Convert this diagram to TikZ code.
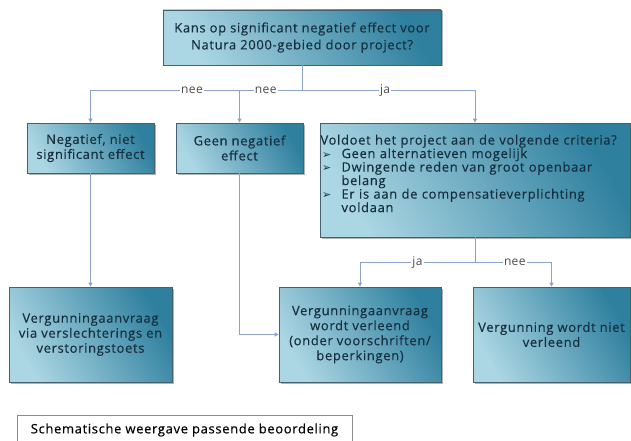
\documentclass[tikz,border=0pt]{standalone}
\usepackage{fontspec}
\setmainfont{Open Sans}[LetterSpace=5, FakeBold=0.3]
\newfontfamily\pijlfont{DejaVu Sans}
\newfontfamily\labelfont{Open Sans}[LetterSpace=3]
\usetikzlibrary{shadows,arrows.meta}
\definecolor{boxlicht}{HTML}{ABD6E3}
\definecolor{boxdonker}{HTML}{2F809F}
\definecolor{rand}{HTML}{45606F}
\definecolor{lijn}{HTML}{8CA2CA}
\definecolor{tekst}{HTML}{17303F}
\newcommand{\punt}[1]{\par\hangindent=21pt\hangafter=1\noindent\makebox[21pt][l]{\hspace{1.5pt}\pijlfont\fontsize{11}{12}\selectfont ➢}#1\par}

\begin{document}
\begin{tikzpicture}[x=1pt,y=-1pt]
\tikzset{blok/.style = {draw=rand, line width=0.8pt, left color=boxlicht, right color=boxdonker,
    shading angle=120, text=tekst, font=\fontsize{13}{15}\selectfont, align=center, inner sep=1.5pt,
    drop shadow={shadow xshift=1.5pt, shadow yshift=-1.5pt, opacity=0.3, fill=black}},
  lijnstijl/.style = {draw=lijn, line width=0.9pt},
  pijl/.style = {lijnstijl, -{Triangle[length=4pt,width=4pt]}},
  keuze/.style = {fill=white, inner sep=1pt, text=black!70, font=\labelfont\fontsize{12}{13}\selectfont}}
\clip (0,0) rectangle (631,441); % vaste marges

% blokken
\node[blok, minimum width=278pt, minimum height=55pt, font=\fontsize{13}{17}\selectfont] (vraag) at (302,37.5)
  {Kans op significant negatief effect voor\\Natura 2000-gebied door project?};
\node[blok, minimum width=127pt, minimum height=50pt] (negatief) at (90.5,148)
  {Negatief, niet\\significant effect};
\node[blok, minimum width=127pt, minimum height=50pt] (geen) at (239.5,148)
  {Geen negatief\\effect};
\node[blok, minimum width=310pt, minimum height=114pt, text width=309pt, inner xsep=0.5pt, align=left,
  font=\fontsize{13}{13.5}\selectfont] (criteria) at (475,180)
  {Voldoet het project aan de volgende criteria?
   \punt{Geen alternatieven mogelijk}
   \punt{Dwingende reden van groot openbaar\hfill\break belang}
   \punt{Er is aan de compensatieverplichting\hfill\break voldaan}
   \vspace*{13pt}};
\node[blok, minimum width=163pt, minimum height=95pt] (toets) at (90.5,334.5)
  {Vergunningaanvraag\\via verslechterings en\\verstoringstoets};
\node[blok, minimum width=162pt, minimum height=95pt] (verleend) at (360,334.5)
  {Vergunningaanvraag\\wordt verleend\\(onder voorschriften/\\beperkingen)};
\node[blok, minimum width=157pt, minimum height=95pt] (nietverleend) at (551.5,334.5)
  {Vergunning wordt niet\\verleend};
\node[draw=black!45, line width=0.8pt, minimum width=335pt, minimum height=30pt,
  font=\fontsize{13}{14}\selectfont] (bijschrift) at (184.5,430)
  {Schematische weergave passende beoordeling};

% verbindingen
\draw[lijnstijl] (vraag.south) -- ++(0,25) coordinate (boven);
\draw[pijl] (boven) -| node[keuze, pos=0.26] {nee} (negatief.north);
\draw[pijl] (boven) -| node[keuze, pos=0.29] {nee} (geen.north);
\draw[pijl] (boven) -| node[keuze, pos=0.24] {ja} (criteria.north);
\draw[lijnstijl] (criteria.south) -- ++(0,25) coordinate (onder);
\draw[pijl] (onder) -| node[keuze, pos=0.25] {ja} (verleend.north);
\draw[pijl] (onder) -| node[keuze, pos=0.26] {nee} (nietverleend.north);
\draw[pijl] (negatief) -- (toets);
\draw[pijl] (geen.south) |- (verleend.west);
\end{tikzpicture}
\end{document}
